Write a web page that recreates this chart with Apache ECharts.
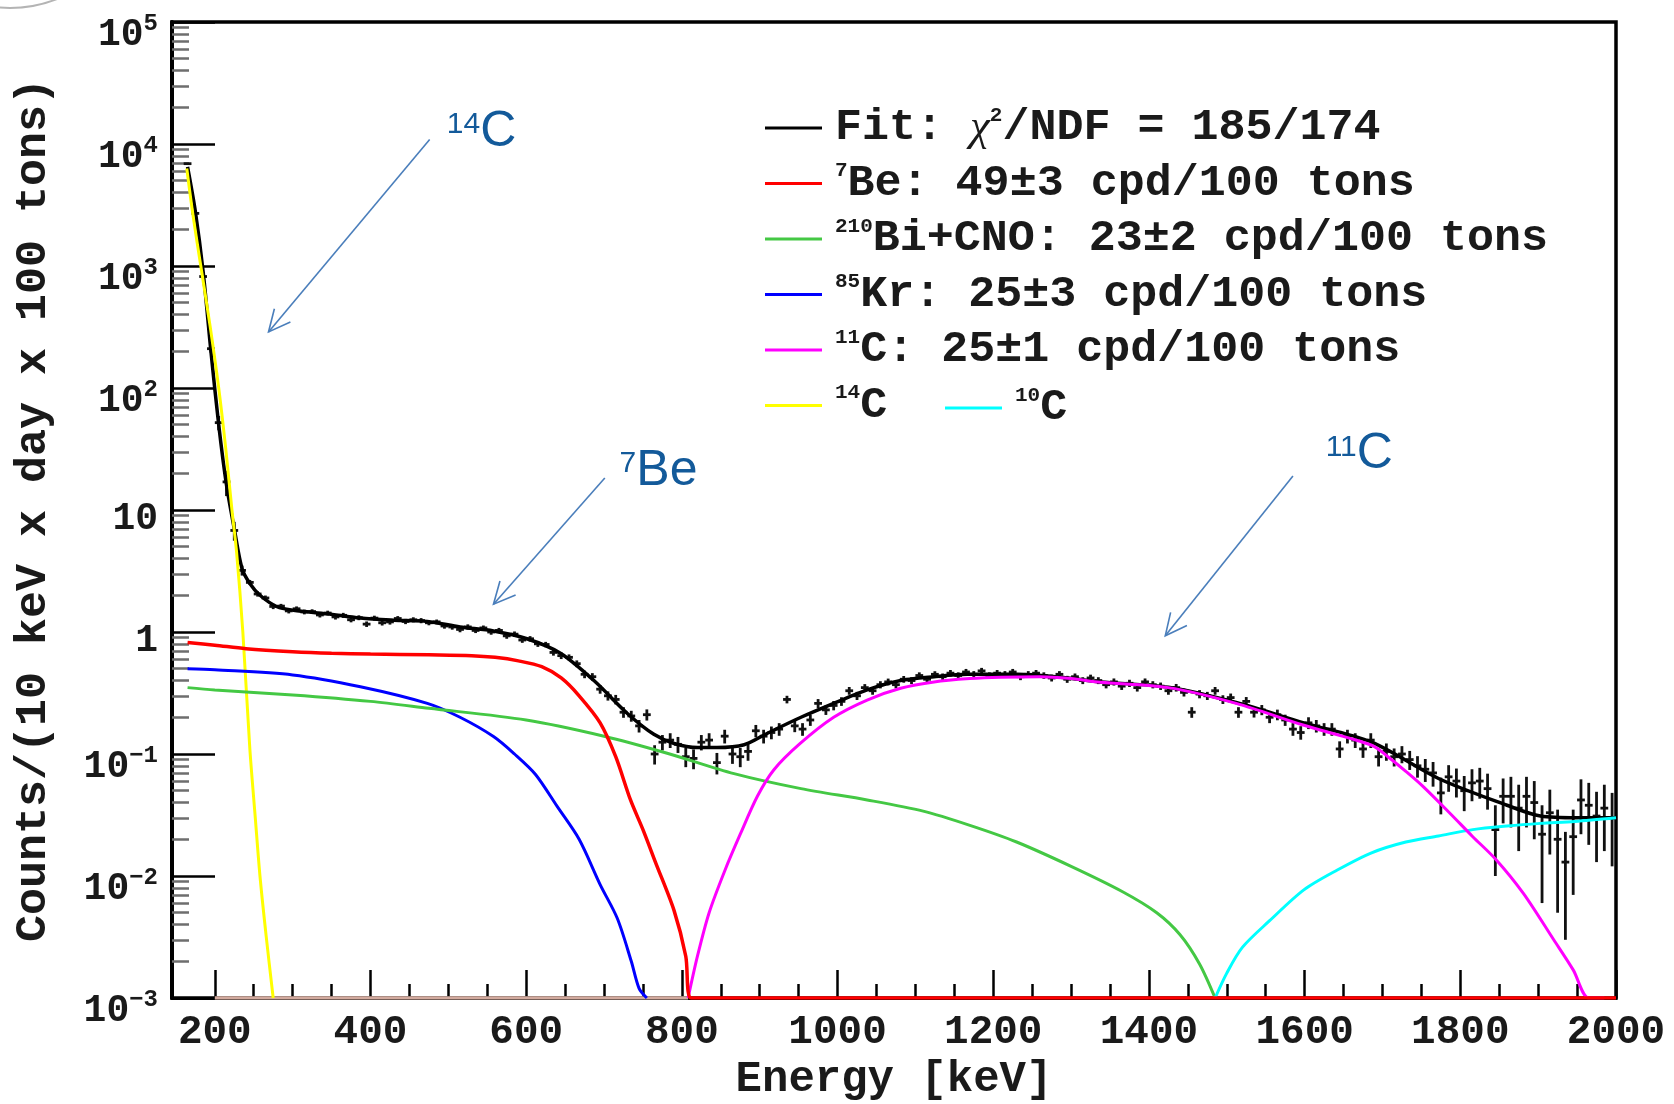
<!DOCTYPE html>
<html><head><meta charset="utf-8">
<script src="https://cdn.jsdelivr.net/npm/echarts@6/dist/echarts.min.js"></script>
<style>html,body{margin:0;padding:0;background:#fff}#c{width:1674px;height:1104px}</style>
</head><body><div id="c"></div>
<script>
// ---------- data ----------
const dataE = [
 165,175,185,195,205,215,225,235,245,255,
 265,275,285,295,305,315,325,335,345,355,
 365,375,385,395,405,415,425,435,445,455,
 465,475,485,495,505,515,525,535,545,555,
 565,575,585,595,605,615,625,635,645,655,
 665,675,685,695,705,715,725,735,745,755,
 765,775,785,795,805,815,825,835,845,855,
 865,875,885,895,905,915,925,935,945,955,
 965,975,985,995,1005,1015,1025,1035,1045,1055,
 1065,1075,1085,1095,1105,1115,1125,1135,1145,1155,
 1165,1175,1185,1195,1205,1215,1225,1235,1245,1255,
 1265,1275,1285,1295,1305,1315,1325,1335,1345,1355,
 1365,1375,1385,1395,1405,1415,1425,1435,1445,1455,
 1465,1475,1485,1495,1505,1515,1525,1535,1545,1555,
 1565,1575,1585,1595,1605,1615,1625,1635,1645,1655,
 1665,1675,1685,1695,1705,1715,1725,1735,1745,1755,
 1765,1775,1785,1795,1805,1815,1825,1835,1845,1855,
 1865,1875,1885,1895,1905,1915,1925,1935,1945,1955,
 1965,1975,1985,1995];
const dataV = [
 6900,2700,820,210,52,17,6.8,3.2,2.55,2.05,
 1.9,1.62,1.63,1.49,1.55,1.46,1.47,1.38,1.43,1.33,
 1.37,1.26,1.31,1.16,1.30,1.19,1.21,1.29,1.22,1.26,
 1.24,1.19,1.21,1.12,1.10,1.05,1.10,1.03,1.08,1.00,
 1.03,0.93,0.96,0.86,0.88,0.80,0.79,0.68,0.64,0.62,
 0.55,0.45,0.43,0.34,0.30,0.28,0.22,0.205,0.17,0.21,
 0.10,0.125,0.13,0.12,0.095,0.092,0.125,0.13,0.085,0.14,
 0.10,0.095,0.105,0.155,0.14,0.15,0.16,0.28,0.17,0.16,
 0.19,0.26,0.23,0.25,0.27,0.33,0.30,0.35,0.33,0.37,
 0.39,0.37,0.41,0.40,0.44,0.41,0.45,0.43,0.46,0.44,
 0.47,0.45,0.48,0.44,0.46,0.45,0.47,0.43,0.45,0.46,
 0.44,0.42,0.45,0.41,0.43,0.40,0.42,0.40,0.37,0.39,
 0.36,0.38,0.35,0.39,0.37,0.36,0.33,0.35,0.32,0.22,
 0.31,0.30,0.33,0.28,0.29,0.22,0.27,0.22,0.23,0.20,
 0.21,0.19,0.16,0.15,0.18,0.17,0.16,0.16,0.11,0.14,
 0.13,0.11,0.13,0.095,0.105,0.095,0.10,0.09,0.08,0.075,
 0.07,0.048,0.065,0.06,0.05,0.058,0.06,0.052,0.024,0.045,
 0.045,0.036,0.045,0.04,0.022,0.033,0.02,0.013,0.021,0.042,
 0.038,0.031,0.036,0.03];
const dataErr = [
 90,55,30,15,7,4,1.2,0.3,0.12,0.1,
 0.09,0.08,0.07,0.07,0.07,0.065,0.065,0.065,0.065,0.065,
 0.065,0.06,0.06,0.06,0.06,0.06,0.06,0.06,0.06,0.06,
 0.06,0.055,0.055,0.055,0.055,0.055,0.055,0.05,0.05,0.05,
 0.05,0.05,0.05,0.045,0.045,0.045,0.04,0.04,0.04,0.035,
 0.035,0.032,0.03,0.028,0.026,0.025,0.022,0.021,0.02,0.022,
 0.018,0.018,0.018,0.018,0.017,0.017,0.018,0.018,0.017,0.018,
 0.017,0.017,0.017,0.018,0.018,0.018,0.019,0.02,0.019,0.019,
 0.02,0.022,0.021,0.022,0.022,0.024,0.023,0.024,0.024,0.025,
 0.025,0.025,0.026,0.026,0.027,0.026,0.027,0.027,0.028,0.027,
 0.028,0.028,0.028,0.027,0.028,0.028,0.028,0.027,0.028,0.028,
 0.027,0.027,0.028,0.027,0.027,0.026,0.027,0.026,0.025,0.026,
 0.025,0.026,0.025,0.026,0.025,0.025,0.024,0.025,0.024,0.022,
 0.024,0.023,0.024,0.023,0.023,0.022,0.023,0.021,0.022,0.021,
 0.021,0.02,0.019,0.019,0.02,0.02,0.019,0.019,0.017,0.018,
 0.018,0.017,0.018,0.016,0.017,0.016,0.016,0.016,0.016,0.016,
 0.016,0.016,0.016,0.016,0.016,0.017,0.017,0.017,0.014,0.018,
 0.02,0.02,0.02,0.02,0.016,0.018,0.015,0.01,0.014,0.02,
 0.02,0.018,0.02,0.018];

const fitE = [165,175,185,195,205,215,225,235,245,258,280,301,344,387,430,473,515,558,601,644,687,730,764,790,820,845,880,910,953,995,1038,1081,1124,1167,1231,1295,1338,1425,1512,1599,1686,1772,1860,1903,1950,2000];
const fitV = [6500,2800,900,200,50,16,7,3.3,2.5,2.0,1.61,1.51,1.41,1.30,1.25,1.22,1.10,1.02,0.88,0.67,0.40,0.215,0.145,0.122,0.113,0.113,0.119,0.148,0.20,0.26,0.335,0.40,0.43,0.45,0.45,0.42,0.39,0.352,0.264,0.18,0.125,0.063,0.038,0.031,0.030,0.030];

const be7E = [165,200,240,300,350,400,475,530,560,590,620,645,668,695,715,734,750,766,790,805,812,2000];
const be7V = [0.82,0.78,0.73,0.69,0.67,0.66,0.65,0.64,0.62,0.58,0.52,0.42,0.30,0.18,0.095,0.042,0.024,0.013,0.0052,0.0022,0.001,0.001];

const bicnoE = [165,200,300,400,475,600,700,780,867,953,1038,1110,1170,1230,1300,1365,1410,1440,1465,1485];
const bicnoV = [0.35,0.335,0.305,0.27,0.237,0.19,0.14,0.102,0.069,0.052,0.042,0.034,0.026,0.019,0.012,0.0075,0.005,0.0033,0.0019,0.001];

const kr85E = [165,200,300,387,473,515,558,585,612,640,668,695,717,735,745,755];
const kr85V = [0.50,0.49,0.445,0.356,0.26,0.20,0.139,0.10,0.068,0.037,0.02,0.0085,0.0045,0.002,0.0012,0.001];

const c11E = [808,820,835,855,875,897,918,952,995,1038,1081,1124,1170,1210,1260,1300,1338,1425,1512,1599,1686,1707,1730,1751,1786,1816,1846,1881,1920,1945,1965,1985];
const c11V = [0.001,0.0022,0.005,0.011,0.022,0.045,0.074,0.122,0.20,0.277,0.346,0.39,0.415,0.426,0.43,0.415,0.387,0.35,0.26,0.172,0.118,0.095,0.072,0.055,0.033,0.021,0.0136,0.0072,0.003,0.0017,0.001,0.001];

const floorE = [200,808];
const floorV = [0.001,0.001];

const c14E = [164,172,182,194,205,214,222,228,236,245,252,258,266,275];
const c14V = [6300,2600,1000,320,100,32,10,4.5,1,0.11,0.03,0.01,0.0032,0.001];

const c10E = [1485,1500,1520,1555,1599,1642,1686,1730,1772,1816,1860,1903,1947,2000];
const c10V = [0.001,0.0016,0.0026,0.0043,0.0077,0.0112,0.0155,0.019,0.0213,0.024,0.0257,0.027,0.028,0.030];

const xMajorTicks = [200,400,600,800,1000,1200,1400,1600,1800,2000];
const xMinorTicks = [250,300,350,450,500,550,650,700,750,850,900,950,1050,1100,1150,1250,1300,1350,1450,1500,1550,1650,1700,1750,1850,1900,1950];
const yMajorTicks = [0.001,0.01,0.1,1,10,100,1000,10000,100000];
const yMinorTicks = [
 0.002,0.003,0.004,0.005,0.006,0.007,0.008,0.009,
 0.02,0.03,0.04,0.05,0.06,0.07,0.08,0.09,
 0.2,0.3,0.4,0.5,0.6,0.7,0.8,0.9,
 2,3,4,5,6,7,8,9,
 20,30,40,50,60,70,80,90,
 200,300,400,500,600,700,800,900,
 2000,3000,4000,5000,6000,7000,8000,9000,
 20000,30000,40000,50000,60000,70000,80000,90000];

const legendLabels = {
 'Fit': '{t|Fit: }{x|\u03c7}{s|2}{t|/NDF = 185/174}',
 '7Be': '{s|7}{t|Be: 49\u00b13 cpd/100 tons}',
 '210Bi+CNO': '{s|210}{t|Bi+CNO: 23\u00b12 cpd/100 tons}',
 '85Kr': '{s|85}{t|Kr: 25\u00b13 cpd/100 tons}',
 '11C': '{s|11}{t|C: 25\u00b11 cpd/100 tons}',
 '14C': '{s|14}{t|C}',
 '10C': '{s|10}{t|C}'
};

// annotation anchors in data coordinates [keV, counts]
const annotations = [
 {sup:'14', main:'C',  textAt:[498, 8250], from:[476, 10900], to:[269, 288]},
 {sup:'7',  main:'Be', textAt:[720, 13.8], from:[701, 18.3], to:[558, 1.69]},
 {sup:'11', main:'C',  textAt:[1627, 18.8], from:[1585, 19.0], to:[1421, 0.93]}
];

// ---------- chart ----------
const MONO = '"Liberation Mono", "DejaVu Sans Mono", monospace';
const INK = '#1a1a1a';
const zip = (xs, ys) => xs.map((x, i) => [x, ys[i]]);
const curve = (name, xs, ys, color, z, width) => ({
  name, type: 'line', data: zip(xs, ys), showSymbol: false, symbol: 'none',
  smooth: 0.3, lineStyle: {color, width: width || 3}, itemStyle: {color}, z, silent: true, clip: true
});

const chart = echarts.init(document.getElementById('c'), null, {renderer: 'canvas', width: 1674, height: 1104});

const legendRich = {
  t: {fontFamily: MONO, fontWeight: 'bold', fontSize: 45, color: INK, lineHeight: 46},
  s: {fontFamily: MONO, fontWeight: 'bold', fontSize: 21, color: INK, lineHeight: 24, verticalAlign: 'top'},
  x: {fontFamily: '"Liberation Serif", serif', fontStyle: 'italic', fontSize: 45, color: INK, lineHeight: 46}
};
const legendBase = {
  orient: 'vertical', itemWidth: 57, itemHeight: 3, itemGap: 10, icon: 'rect', selectedMode: false,
  formatter: n => legendLabels[n],
  textStyle: {padding: [0, 0, 0, 8], rich: legendRich}
};

const option = {
  animation: false,
  backgroundColor: '#fff',
  grid: {left: 172, right: 58, top: 22, bottom: 106, show: true, borderColor: '#000', borderWidth: 3.5,
         containLabel: false, outerBoundsMode: 'none'},
  xAxis: [{
    type: 'value', min: 145, max: 2000,
    axisLine: {show: true, lineStyle: {color: '#000', width: 3}},
    axisTick: {show: true, inside: true, length: 28, customValues: xMajorTicks, lineStyle: {color: '#000', width: 2.5}},
    axisLabel: {show: true, customValues: xMajorTicks, formatter: v => String(v), fontFamily: MONO, fontWeight: 'bold', fontSize: 41, color: INK, margin: 14},
    splitLine: {show: false},
    name: 'Energy [keV]', nameLocation: 'middle', nameGap: 60,
    nameTextStyle: {fontFamily: MONO, fontWeight: 'bold', fontSize: 44, color: INK}
  }, {
    type: 'value', min: 145, max: 2000, position: 'bottom',
    axisLine: {show: false},
    axisTick: {show: true, inside: true, length: 14, customValues: xMinorTicks, lineStyle: {color: '#000', width: 2.5}},
    axisLabel: {show: false}, splitLine: {show: false}
  }],
  yAxis: [{
    type: 'log', logBase: 10, min: 0.001, max: 100000, position: 'left',
    axisLine: {show: true, lineStyle: {color: '#000', width: 4}},
    axisTick: {show: true, inside: true, length: 43, customValues: yMajorTicks, lineStyle: {color: '#000', width: 2.5}},
    axisLabel: {
      show: true, customValues: yMajorTicks, margin: 14,
      formatter: v => {
        const p = Math.round(Math.log10(v));
        if (p === 0) return '{p|1}';
        if (p === 1) return '{p|10}';
        return '{b|10}{s|' + (p < 0 ? '\u2212' + (-p) : p) + '}';
      },
      rich: {
        p: {fontFamily: MONO, fontWeight: 'bold', fontSize: 38, color: INK, lineHeight: 40, padding: [10, 0, 0, 0], verticalAlign: 'top'},
        b: {fontFamily: MONO, fontWeight: 'bold', fontSize: 38, color: INK, lineHeight: 40, padding: [14, 0, 0, 0], verticalAlign: 'top'},
        s: {fontFamily: MONO, fontWeight: 'bold', fontSize: 24, color: INK, lineHeight: 26, padding: [10, 0, 0, 0], verticalAlign: 'top'}
      }
    },
    splitLine: {show: false},
    name: 'Counts/(10 keV x day x 100 tons)', nameLocation: 'middle', nameGap: 116, nameRotate: 90,
    nameTextStyle: {fontFamily: MONO, fontWeight: 'bold', fontSize: 45, color: INK}
  }, {
    type: 'log', logBase: 10, min: 0.001, max: 100000, position: 'left', offset: 0,
    axisLine: {show: false},
    axisTick: {show: true, inside: true, length: 17, customValues: yMinorTicks, lineStyle: {color: '#6e6e6e', width: 2.5}},
    axisLabel: {show: false}, splitLine: {show: false}
  }],
  legend: [
    Object.assign({data: ['Fit', '7Be', '210Bi+CNO', '85Kr', '11C', '14C'], left: 760, top: 100}, legendBase),
    Object.assign({data: ['10C'], left: 940, top: 380}, legendBase)
  ],
  series: [
    {
      name: 'data', type: 'custom', z: 2, silent: true, clip: true,
      data: dataE.map((e, i) => [e, dataV[i], dataErr[i]]),
      renderItem: (params, api) => {
        const e = api.value(0), v = api.value(1), err = api.value(2);
        const lo = Math.max(v - err, 0.0011);
        const top = api.coord([e, v + err]);
        const bot = api.coord([e, lo]);
        const l = api.coord([e - 5, v]);
        const r = api.coord([e + 5, v]);
        const st = {stroke: '#111', lineWidth: 2.8};
        return {type: 'group', children: [
          {type: 'line', shape: {x1: top[0], y1: top[1], x2: bot[0], y2: bot[1]}, style: st},
          {type: 'line', shape: {x1: l[0], y1: l[1], x2: r[0], y2: r[1]}, style: st}
        ]};
      }
    },
    curve('Fit', fitE, fitV, '#000000', 3, 3.5),
    curve('floor', floorE, floorV, '#d2aa9e', 4, 3.5),
    curve('14C', c14E, c14V, '#ffff00', 4),
    curve('85Kr', kr85E, kr85V, '#0000ff', 4),
    curve('210Bi+CNO', bicnoE, bicnoV, '#44c844', 4),
    curve('10C', c10E, c10V, '#00ffff', 4),
    curve('11C', c11E, c11V, '#ff00ff', 4),
    curve('7Be', be7E, be7V, '#ff0000', 5, 3.5)
  ]
};
chart.setOption(option);

// annotation overlay, anchored in data coordinates
const graphics = [{
  type: 'arc', shape: {cx: 10, cy: -120, r: 128, startAngle: 0, endAngle: Math.PI},
  style: {stroke: '#b4b4b4', lineWidth: 2, fill: null}, silent: true
}];
try {
  const toPx = p => chart.convertToPixel({xAxisIndex: 0, yAxisIndex: 0}, p);
  const ARROW = '#4a7ebb', TXT = '#135a9a';
  annotations.forEach(a => {
    const s = toPx(a.from), t = toPx(a.to), tp = toPx(a.textAt);
    const ang = Math.atan2(s[1] - t[1], s[0] - t[0]);
    const arm = k => [t[0] + 24 * Math.cos(ang + k), t[1] + 24 * Math.sin(ang + k)];
    graphics.push({type: 'line', shape: {x1: s[0], y1: s[1], x2: t[0], y2: t[1]}, style: {stroke: ARROW, lineWidth: 1.6}, silent: true});
    graphics.push({type: 'polyline', shape: {points: [arm(0.45), t, arm(-0.45)]}, style: {stroke: ARROW, lineWidth: 1.6, fill: null}, silent: true});
    graphics.push({type: 'text', x: tp[0], y: tp[1], silent: true, style: {
      text: '{s|' + a.sup + '}{c|' + a.main + '}',
      align: 'left', verticalAlign: 'bottom',
      rich: {
        s: {fontFamily: '"Liberation Sans", Arial, sans-serif', fontSize: 30, fill: TXT, lineHeight: 30, verticalAlign: 'top'},
        c: {fontFamily: '"Liberation Sans", Arial, sans-serif', fontSize: 50, fill: TXT, lineHeight: 44}
      }
    }});
  });
} catch (err) { console.error(err); }
chart.setOption({graphic: graphics});
</script>
</body></html>
